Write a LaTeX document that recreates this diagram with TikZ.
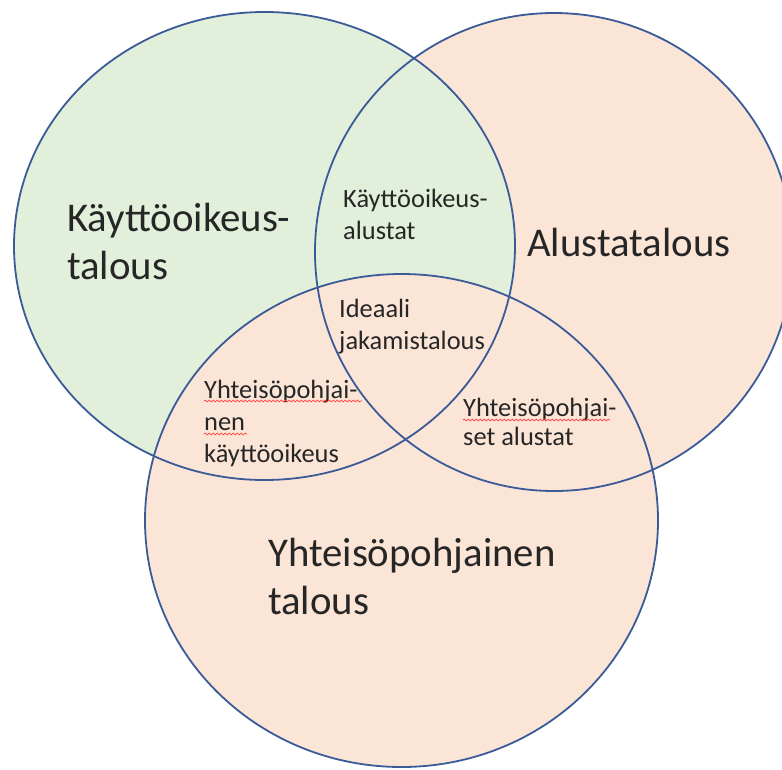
\documentclass[tikz,border=0pt]{standalone}
\usepackage{fontspec}
\setmainfont{Carlito}
\usepackage{tikz}
\usetikzlibrary{decorations.pathmorphing}
\definecolor{greenfill}{HTML}{E2EFDA}
\definecolor{peachfill}{HTML}{FBE5D6}
\definecolor{ringblue}{HTML}{3A5A98}

\begin{document}
\begin{tikzpicture}[x=1pt, y=-1pt,
    ring/.style={draw=ringblue, line width=1.8pt},
    biglabel/.style={anchor=west, inner sep=0pt, align=left, text=black!85,
      font={\fontsize{40.8}{48}\selectfont}},
    smalllabel/.style={anchor=west, inner sep=0pt, align=left, text=black!85,
      font={\fontsize{26.4}{32}\selectfont}},
    squiggle/.style={draw=red!75, line width=0.7pt, decorate,
      decoration={snake, amplitude=0.9pt, segment length=4pt}}]
    \useasboundingbox (0,0) rectangle (782,769);
    \clip (0,0) rectangle (782,769);

    % centres of the three sets
    \coordinate (cUse) at (264.5,246);
    \coordinate (cPlat) at (554,252);
    \coordinate (cComm) at (401.5,520.5);

    % fills first, outlines on top
    \fill[peachfill] (cPlat) ellipse [x radius=239pt, y radius=239pt];
    \fill[greenfill] (cUse) ellipse [x radius=250.5pt, y radius=234pt];
    \fill[peachfill] (cComm) ellipse [x radius=256.5pt, y radius=246.5pt];
    \draw[ring] (cPlat) ellipse [x radius=239pt, y radius=239pt];
    \draw[ring] (cUse) ellipse [x radius=250.5pt, y radius=234pt];
    \draw[ring] (cComm) ellipse [x radius=256.5pt, y radius=246.5pt];

    % set names
    \node[biglabel] (use) at (67,241) {Käyttöoikeus-\\talous};
    \node[biglabel] (plat) at (527,242) {Alustatalous};
    \node[biglabel] (comm) at (268,576) {Yhteisöpohjainen\\talous};

    % overlaps
    \node[smalllabel] (useplat) at (343,214) {Käyttöoikeus-\\alustat};
    \node[smalllabel] (ideal) at (339,327) {Ideaali\\jakamistalous};
    \node[smalllabel] (usecomm) at (204,423) {Yhteisöpohjai-\\nen\\käyttöoikeus};
    \node[smalllabel, font={\fontsize{26.4}{29}\selectfont}] (platcomm) at (463,422) {Yhteisöpohjai-\\set alustat};

    % spell-check marks
    \draw[squiggle] (204,401) -- (362,401);
    \draw[squiggle] (204,434) -- (247,434);
    \draw[squiggle] (463,420) -- (610,420);
\end{tikzpicture}
\end{document}
